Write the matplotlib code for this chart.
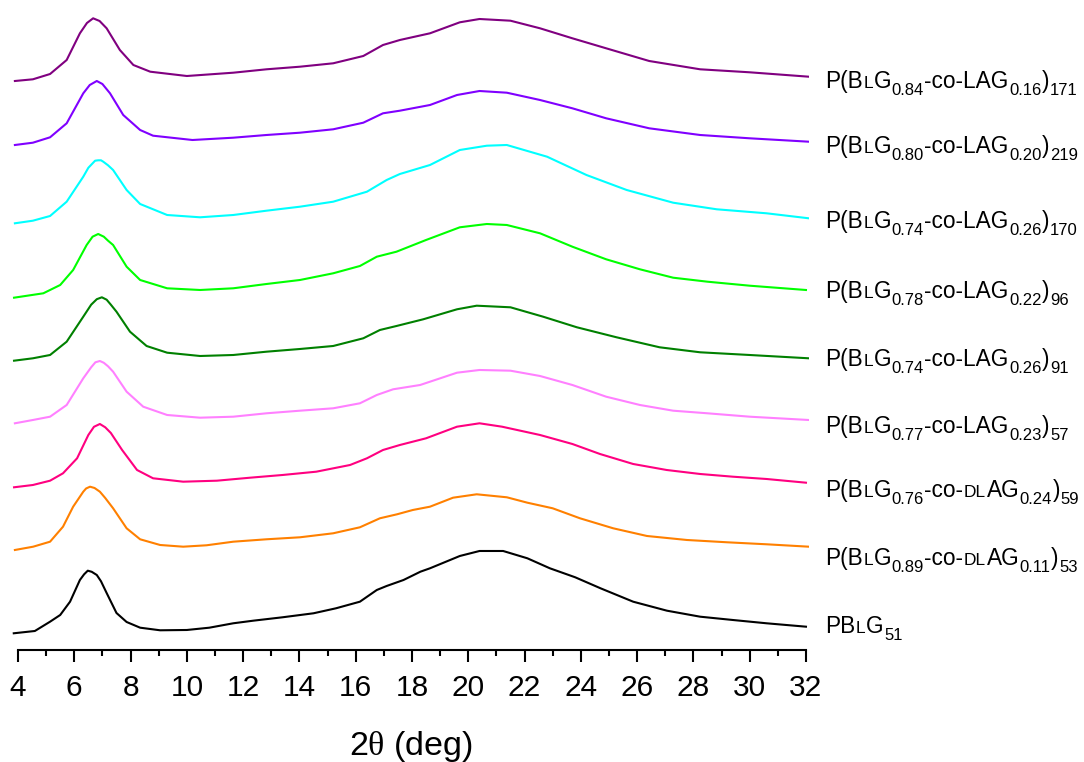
import re
import numpy as np
import matplotlib
matplotlib.use("Agg")
import matplotlib.pyplot as plt
import matplotlib.transforms as mtransforms
from matplotlib.ticker import MultipleLocator

plt.rcParams['font.family'] = ['Liberation Sans', 'DejaVu Sans']
plt.rcParams['mathtext.fontset'] = 'custom'
plt.rcParams['mathtext.rm'] = 'Liberation Serif'

# WAXS traces, 2theta (deg) vs intensity (a.u., each trace starts at 0)
tt_pblg51 = [3.85, 4.6, 5.14, 5.5, 5.85, 6.2, 6.35, 6.48, 6.62, 6.8, 6.95, 7.15, 7.5, 7.86, 8.34,
             9.05, 10, 10.8, 11.65, 12.36, 13.4, 14.5, 15.3, 16.15, 16.75, 17.1, 17.7, 18.3, 18.64,
             19.7, 20.4, 21.24, 22.1, 22.9, 23.8, 24.7, 25.86, 27.06, 28.24, 29.4, 30.6, 32]
i_pblg51 = [0, 2.3, 11.6, 18.3, 31.6, 53.3, 59, 62.6, 61.5, 58.3, 52, 40.3, 20.3, 11.3, 5.6,
            3, 3.3, 5.6, 10, 12.6, 16, 20, 25, 31.6, 43.3, 47.3, 53.3, 61.6, 65,
            77.3, 82.3, 82.3, 75, 65, 56, 45, 31.6, 22.6, 16.6, 13.3, 10, 6.6]

tt_dlag11 = [3.89, 4.54, 5.14, 5.6, 5.96, 6.32, 6.42, 6.56, 6.72, 6.91, 7.1, 7.38, 7.86, 8.34, 9.05,
             9.87, 10.7, 11.65, 12.83, 14.02, 15.2, 16.15, 16.86, 17.47, 18.03, 18.64, 19.46, 20.3,
             21.37, 22.1, 23.0, 23.97, 25.15, 26.35, 27.77, 29.2, 30.6, 32.1]
i_dlag11 = [0, 3.3, 8.3, 23.3, 43.3, 58.3, 61.5, 63.3, 62, 58.3, 52, 41.7, 21.7, 10.7, 5,
            3.3, 4.7, 8.3, 10.7, 12.7, 16.7, 22.7, 31.7, 35.7, 40, 43.3, 52.3, 55.7,
            52.7, 47.3, 41.7, 31.7, 21.7, 14, 10, 7.7, 5.7, 3.3]

tt_dlag24 = [3.86, 4.53, 5.14, 5.6, 6.1, 6.5, 6.7, 6.91, 7.1, 7.3, 7.7, 8.23, 8.8, 9.87, 11.07,
             12.25, 13.4, 14.6, 15.8, 16.4, 16.97, 17.57, 18.5, 19.6, 20.4, 21.2, 22.55, 23.7,
             24.68, 25.86, 27.05, 28.24, 29.4, 30.6, 32]
i_dlag24 = [0, 2.3, 6.6, 14, 29, 52.3, 60.5, 63.3, 60, 54.3, 37.3, 17.3, 9, 5.6, 6.6,
            9.6, 12.3, 15.6, 22.3, 29, 37.3, 42.3, 49, 60.6, 64, 60.6, 52.3, 43.3,
            33.3, 23.3, 17.3, 13.3, 10.6, 8.3, 4.6]

tt_lag23 = [3.89, 4.53, 5.14, 5.73, 6.32, 6.6, 6.75, 6.91, 7.05, 7.2, 7.38, 7.86, 8.45, 9.3, 10.47,
            11.65, 12.83, 14.02, 15.2, 16.15, 16.75, 17.33, 18.29, 19.6, 20.4, 21.5, 22.55, 23.7,
            24.9, 26.1, 27.28, 28.5, 30, 32.1]
i_lag23 = [0, 3.3, 6.6, 18.3, 45, 56, 61, 62.3, 60.5, 57, 51.6, 31.6, 16.6, 8.3, 5.6,
           6.6, 10, 12.6, 15, 20, 28.3, 34, 38.3, 50.6, 53.3, 52.6, 47.3, 38.3,
           26.6, 18.3, 12.6, 10, 6.6, 3.3]

tt_lag26a = [3.86, 4.53, 5.14, 5.73, 6.32, 6.6, 6.8, 6.98, 7.15, 7.3, 7.5, 7.98, 8.57, 9.3, 10.47,
             11.65, 12.83, 14.02, 15.2, 16.27, 16.86, 17.45, 18.4, 19.6, 20.3, 21.5, 22.66, 23.86,
             25.27, 26.8, 28.24, 30, 32.1]
i_lag26a = [0, 2.4, 5.7, 19, 44, 56, 61.5, 63.4, 61, 56, 49, 29, 14.7, 8, 4.7,
            5.7, 9, 11.7, 14.7, 22.4, 30.7, 34.7, 41.4, 51.4, 55, 53.4, 44, 33.4,
            23.4, 13.4, 8.4, 5.7, 2.4]

tt_lag22 = [3.86, 4.9, 5.5, 5.96, 6.44, 6.65, 6.85, 7.05, 7.2, 7.38, 7.86, 8.34, 9.3, 10.47, 11.65,
            12.83, 14.02, 15.2, 16.15, 16.75, 17.45, 18.5, 19.7, 20.66, 21.37, 22.55, 23.7, 24.9,
            26.1, 27.28, 28.5, 30, 32]
i_lag22 = [0, 4.4, 12.7, 27.7, 52.7, 61, 63.7, 61, 57, 52.7, 31, 17.7, 9.4, 7.7, 9.4,
           13.7, 17.7, 24.4, 31.7, 41, 46, 57.7, 70.4, 73.7, 72.7, 64.4, 51, 38.4,
           28.4, 20, 16, 12, 7.7]

tt_lag26b = [3.89, 4.53, 5.14, 5.73, 6.32, 6.5, 6.74, 6.85, 6.95, 7.03, 7.2, 7.38, 7.86, 8.34, 9.3,
             10.47, 11.65, 12.83, 14.02, 15.2, 16.4, 17.1, 17.57, 18.64, 19.7, 20.66, 21.37, 22.8,
             24.2, 25.63, 27.28, 28.83, 30.6, 32.1]
i_lag26b = [0, 2.6, 7.3, 21.6, 46.6, 55.5, 62.6, 63, 63, 61.6, 58, 53.3, 33.3, 19.3, 8.3,
            6, 8.3, 12.6, 16.6, 21.6, 31.6, 43.3, 49.3, 58.3, 73.3, 77.6, 78.3, 66.6,
            48.3, 33.3, 20.6, 14, 10, 5]

tt_lag20 = [3.89, 4.53, 5.14, 5.73, 6.32, 6.55, 6.8, 7.0, 7.27, 7.74, 8.34, 8.8, 10.2, 11.65, 12.83,
            14.02, 15.2, 16.27, 16.97, 17.57, 18.64, 19.6, 20.4, 21.37, 22.55, 23.7, 24.9, 26.43,
            28.24, 30, 32.1]
i_lag20 = [0, 2.3, 7.7, 21.7, 51.7, 60, 64, 61, 51.7, 30, 15, 9.3, 5, 7.3, 10,
           12.3, 15.7, 22.3, 31.7, 34.3, 40, 50, 54, 52.3, 45, 36.7, 26.7, 16.7,
           10, 6.7, 3.3]

tt_lag16 = [3.89, 4.53, 5.14, 5.73, 6.2, 6.45, 6.67, 6.9, 7.15, 7.62, 8.1, 8.7, 10, 11.65, 12.83,
            14.02, 15.2, 16.27, 16.97, 17.57, 18.64, 19.7, 20.4, 21.5, 22.55, 23.7, 24.9, 26.43,
            28.24, 30, 32.1]
i_lag16 = [0, 1.7, 7, 21, 47.7, 58, 62.7, 60, 52.7, 31, 16, 9.3, 5, 8.3, 11.7,
           14.3, 17.7, 25, 36, 41, 47.7, 58.7, 62, 60.3, 52.7, 42.7, 32.7, 20,
           11.7, 8.7, 4.3]

# vertical stacking offsets, bottom to top
offsets = [16.7, 100, 162.7, 226.7, 289.3, 352.3, 426.7, 505, 569]
colors = ['#000000', '#FF8000', '#FF0080', '#FF80FF', '#008000',
          '#00FF00', '#00FFFF', '#8000FF', '#800080']
# {X} = small capital, _{..} = subscript
labels = ['PB{L}G_{51}',
          'P(B{L}G_{0.89}-co-{DL}AG_{0.11})_{53}',
          'P(B{L}G_{0.76}-co-{DL}AG_{0.24})_{59}',
          'P(B{L}G_{0.77}-co-LAG_{0.23})_{57}',
          'P(B{L}G_{0.74}-co-LAG_{0.26})_{91}',
          'P(B{L}G_{0.78}-co-LAG_{0.22})_{96}',
          'P(B{L}G_{0.74}-co-LAG_{0.26})_{170}',
          'P(B{L}G_{0.80}-co-LAG_{0.20})_{219}',
          'P(B{L}G_{0.84}-co-LAG_{0.16})_{171}']
label_y = [17, 85, 153, 217, 284, 352, 422, 497, 562]

traces = [(tt_pblg51, i_pblg51), (tt_dlag11, i_dlag11), (tt_dlag24, i_dlag24),
          (tt_lag23, i_lag23), (tt_lag26a, i_lag26a), (tt_lag22, i_lag22),
          (tt_lag26b, i_lag26b), (tt_lag20, i_lag20), (tt_lag16, i_lag16)]

fig = plt.figure(figsize=(10.84, 7.62), dpi=100)
ax = fig.add_axes([0.0114, 0.147, 0.7347, 0.853])

for (tt, inten), off, c in zip(traces, offsets, colors):
    ax.plot(tt, np.asarray(inten) + off, color=c, lw=1.5, solid_joinstyle='round')

ax.set_xlim(3.8, 32.1)
ax.set_ylim(0, 650)
for s in ['left', 'right', 'top']:
    ax.spines[s].set_visible(False)
ax.spines['bottom'].set_bounds(4, 32)
ax.spines['bottom'].set_linewidth(1.5)
ax.set_yticks([])
ax.xaxis.set_major_locator(MultipleLocator(2))
ax.xaxis.set_minor_locator(MultipleLocator(1))
ax.tick_params(axis='x', which='major', length=8.6, width=1.5, labelsize=21.5, pad=9)
ax.tick_params(axis='x', which='minor', length=4.3, width=1.5)
ax.set_xlabel(r'2$\mathrm{\theta}$ (deg)', fontsize=24.5, labelpad=19)

renderer = fig.canvas.get_renderer()


def rich_label(x, y, markup):
    # draw a label piece by piece: normal text, small caps and subscripts
    dx = 0
    for sub, sc, plain in re.findall(r'_\{([^}]*)\}|\{([^}]*)\}|([^_{]+)', markup):
        if sub:
            txt, size, rise = sub, 12, -7.5
        elif sc:
            txt, size, rise = sc, 12.5, 0
        else:
            txt, size, rise = plain, 16.3, 0
        tr = mtransforms.offset_copy(ax.transData, fig=fig, x=dx, y=rise, units='dots')
        t = ax.text(x, y, txt, fontsize=size, transform=tr, ha='left', va='baseline')
        dx += t.get_window_extent(renderer).width + 0.5


for lab, ly in zip(labels, label_y):
    rich_label(32.68, ly, lab)

fig.savefig('out.png', dpi=100)
